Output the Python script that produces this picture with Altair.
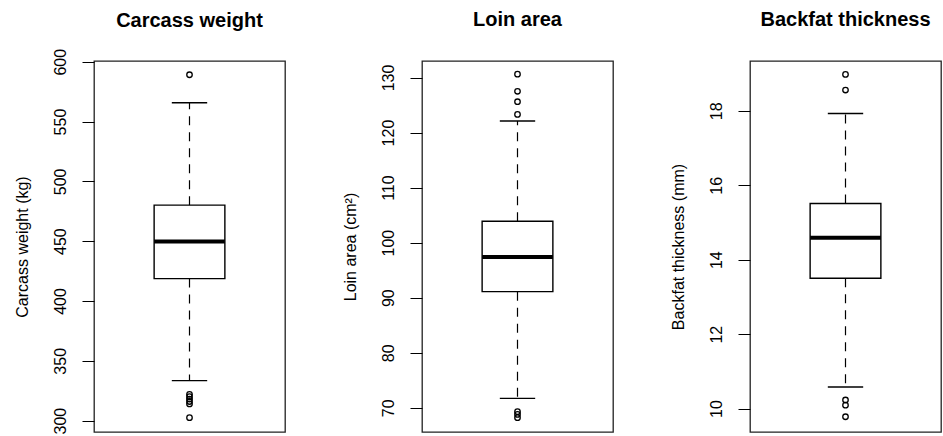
import altair as alt
import pandas as pd

# ---- data ----
panel_titles = ["Carcass weight", "Loin area", "Backfat thickness"]
axis_titles = ["Carcass weight (kg)", "Loin area (cm²)", "Backfat thickness (mm)"]

lower_whisker = [333.4, 71.7, 10.58]
q1 = [418.7, 91.1, 13.50]
median = [449.7, 97.4, 14.59]
q3 = [480.1, 103.9, 15.51]
upper_whisker = [565.7, 122.1, 17.93]

outliers = [
    [589.1, 322.0, 320.0, 318.0, 316.0, 314.0, 302.5],
    [130.6, 127.5, 125.6, 123.3, 69.3, 68.8, 68.2],
    [18.98, 18.56, 10.23, 10.09, 9.78],
]

tick_values = [
    [300, 350, 400, 450, 500, 550, 600],
    [70, 80, 90, 100, 110, 120, 130],
    [10, 12, 14, 16, 18],
]

y_domains = [[290.5, 600.6], [65.6, 133.0], [9.37, 19.34]]

# vertical nudge of each panel title (the first panel's top tick label
# pushes its title up, so it is moved back down)
title_dy = [13.5, 0, 0]

FONT = "Liberation Sans"
W, H = 191, 371


def panel(i):
    stats = pd.DataFrame({
        "pos": [1.0],
        "lo": [lower_whisker[i]],
        "q1": [q1[i]],
        "med": [median[i]],
        "q3": [q3[i]],
        "hi": [upper_whisker[i]],
    })
    outs = pd.DataFrame({"pos": [1.0] * len(outliers[i]), "v": outliers[i]})

    xs = alt.Scale(domain=[0.46, 1.54], nice=False, zero=False)
    ys = alt.Scale(domain=y_domains[i], nice=False, zero=False)
    yaxis = alt.Axis(
        values=tick_values[i], format="d", title=axis_titles[i],
        domain=False, grid=False, ticks=True, tickSize=12, tickColor="black",
        tickWidth=1, labelAngle=270, labelAlign="center",
        labelBaseline="alphabetic", labelPadding=17, labelFontSize=16,
        labelFont=FONT, labelColor="black", labelOverlap=False,
        labelFlush=False, titleFont=FONT, titleFontSize=16,
        titleFontWeight="normal", titleColor="black", titleAngle=270,
        titleBaseline="alphabetic", titleAlign="center", titleX=-67,
        titleY=H / 2,
    )

    base = alt.Chart(stats).transform_calculate(
        b0="datum.pos - 0.2", b1="datum.pos + 0.2",
        s0="datum.pos - 0.1", s1="datum.pos + 0.1",
    )
    X = lambda f: alt.X(f, scale=xs, axis=None, title=None)
    Y = lambda f: alt.Y(f, scale=ys, axis=yaxis, title=axis_titles[i])

    whisk_up = base.mark_rule(color="black", strokeWidth=1.2, strokeDash=[9, 7]).encode(
        x=X("pos:Q"), y=Y("q3:Q"), y2="hi:Q")
    whisk_lo = base.mark_rule(color="black", strokeWidth=1.2, strokeDash=[9, 7]).encode(
        x=X("pos:Q"), y=Y("q1:Q"), y2="lo:Q")
    staple_hi = base.mark_rule(color="black", strokeWidth=1.4).encode(
        x=X("s0:Q"), x2="s1:Q", y=Y("hi:Q"))
    staple_lo = base.mark_rule(color="black", strokeWidth=1.4).encode(
        x=X("s0:Q"), x2="s1:Q", y=Y("lo:Q"))
    box = base.mark_rect(fill="white", stroke="black", strokeWidth=1.4).encode(
        x=X("b0:Q"), x2="b1:Q", y=Y("q1:Q"), y2="q3:Q")
    med = base.mark_rule(color="black", strokeWidth=4).encode(
        x=X("b0:Q"), x2="b1:Q", y=Y("med:Q"))
    pts = alt.Chart(outs).mark_point(
        shape="circle", filled=False, color="black", size=30, strokeWidth=1.3,
        opacity=1).encode(x=X("pos:Q"), y=Y("v:Q"))

    return alt.layer(whisk_up, whisk_lo, staple_hi, staple_lo, box, med, pts).properties(
        width=W, height=H,
        title=alt.Title(panel_titles[i], fontSize=20, fontWeight="bold", font=FONT,
                        color="black", anchor="middle", frame="group",
                        baseline="alphabetic", offset=15, dy=title_dy[i]),
    )


chart = alt.hconcat(panel(0), panel(1), panel(2), spacing=137, bounds="flush").properties(
    padding={"left": 13, "top": 9, "right": 0, "bottom": 0},
    background="white",
).configure_view(stroke="#222", strokeWidth=1.3)

chart.save("out.html", embed_options={"renderer": "svg", "actions": False})
